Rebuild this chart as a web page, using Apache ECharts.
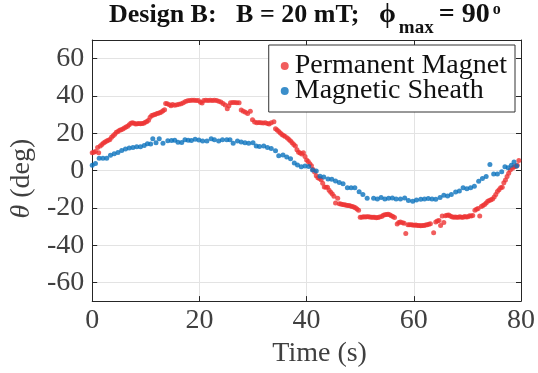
<!DOCTYPE html>
<html>
<head>
<meta charset="utf-8">
<script src="https://cdn.jsdelivr.net/npm/echarts@6/dist/echarts.min.js"></script>
<style>
  html, body { margin: 0; padding: 0; background: #fff; }
  #chart { width: 538px; height: 373px; }
</style>
</head>
<body>
<div id="chart"></div>
<script>
// series names
var seriesNames = ['Permanent Magnet', 'Magnetic Sheath'];

// tick labels
var xTicks = [0, 20, 40, 60, 80];
var yTicks = [-60, -40, -20, 0, 20, 40, 60];

// [time (s), theta (deg)]
var permanentMagnet = [
    [0, 9.5], [0.3, 9.8], [0.6, 10.2], [1.0, 12.3], [1.2, 9.6], [1.5, 13.2], [1.8, 14.0], [2.1, 14.8], [2.4, 15.3], [2.7, 15.8],
    [3.0, 16.3], [3.3, 16.7], [3.6, 17.8], [3.9, 18.6], [4.2, 19.5], [4.5, 20.5], [4.8, 21.0], [5.1, 21.6], [5.4, 21.9], [5.7, 22.3],
    [6.0, 22.8], [6.3, 23.3], [6.6, 23.8], [6.9, 24.6], [7.2, 25.4], [7.5, 25.6], [7.8, 25.3], [8.1, 25.0], [8.4, 25.1], [8.7, 25.2],
    [9.0, 25.1], [9.3, 25.2], [9.6, 25.4], [9.9, 25.9], [10.2, 26.3], [10.5, 27.0], [10.8, 28.6], [11.1, 29.5], [11.4, 29.8], [11.7, 30.1],
    [12.0, 30.4], [12.3, 30.7], [12.6, 31.0], [12.9, 31.4], [13.2, 32.0], [13.5, 32.6], [13.7, 36.0], [14.0, 35.8], [14.4, 35.3], [14.7, 34.8],
    [15.0, 35.4], [15.4, 35.0], [15.8, 35.3], [16.2, 35.6], [16.6, 35.8], [17.0, 36.4], [17.4, 37.0], [17.8, 37.4], [18.2, 37.6], [18.6, 37.7],
    [19.0, 37.7], [19.4, 37.5], [19.8, 37.6], [20.2, 36.6], [20.5, 36.2], [20.8, 37.5], [21.2, 37.7], [21.6, 37.6], [22.0, 37.7], [22.4, 37.6],
    [22.8, 37.7], [23.2, 37.5], [23.6, 37.2], [24.0, 36.8], [24.4, 36.0], [24.8, 35.2], [25.2, 33.2], [25.5, 34.8], [25.8, 36.4], [26.2, 36.5],
    [26.6, 36.5], [27.0, 36.4], [27.4, 36.3], [27.8, 32.5], [28.2, 31.8], [28.6, 31.2], [29.0, 30.6], [29.5, 31.8], [29.9, 27.2], [30.3, 26.0],
    [30.7, 25.6], [31.1, 25.7], [31.5, 25.6], [31.9, 25.5], [32.3, 25.6], [32.7, 25.2], [33.0, 25.0], [33.4, 25.6], [33.9, 26.2], [34.2, 22.4],
    [34.5, 21.8], [34.8, 21.0], [35.1, 20.2], [35.4, 19.3], [35.7, 18.8], [36.0, 18.2], [36.4, 17.4], [36.7, 16.7], [37.0, 15.8], [37.3, 14.9],
    [37.6, 14.0], [37.9, 13.2], [38.2, 11.2], [38.5, 9.8], [38.8, 9.4], [39.1, 8.9], [39.4, 9.6], [39.7, 7.6], [40.0, 5.6], [40.3, 4.8],
    [40.6, 3.6], [40.9, 2.6], [41.2, 0.6], [41.5, -0.8], [41.8, -2.8], [42.1, -3.8], [42.4, -4.2], [42.7, -4.9], [43.0, -6.8], [43.3, -8.8],
    [43.6, -9.0], [43.9, -8.9], [44.2, -10.6], [44.5, -11.6], [44.8, -12.6], [45.1, -13.8], [45.4, -17.4], [45.8, -14.9], [46.1, -17.8], [46.4, -18.0],
    [46.7, -18.2], [47.0, -18.4], [47.3, -18.5], [47.6, -18.7], [47.9, -18.8], [48.2, -19.0], [48.5, -19.3], [48.8, -19.6], [49.1, -20.0], [49.4, -20.6],
    [49.7, -21.3], [50.0, -25.1], [50.3, -25.0], [50.6, -24.8], [50.9, -24.9], [51.2, -24.8], [51.5, -24.8], [51.8, -24.9], [52.1, -25.0], [52.4, -25.0],
    [52.7, -25.1], [53.0, -25.3], [53.3, -25.2], [53.6, -24.9], [54.0, -24.6], [54.3, -24.0], [54.6, -23.7], [54.9, -23.5], [55.2, -23.4], [55.5, -23.7],
    [55.8, -24.2], [56.1, -24.6], [56.4, -25.2], [56.9, -28.6], [57.2, -27.8], [57.5, -27.6], [57.9, -28.0], [58.2, -28.2], [58.5, -33.8], [58.9, -29.1],
    [59.2, -29.0], [59.5, -29.1], [59.8, -29.2], [60.1, -29.3], [60.4, -29.2], [60.7, -29.4], [61.0, -29.5], [61.3, -29.6], [61.6, -29.5], [61.9, -29.5],
    [62.2, -29.2], [62.5, -29.0], [62.8, -28.8], [63.1, -28.5], [63.7, -33.4], [64.1, -27.6], [64.4, -27.0], [64.7, -26.8], [65.0, -29.5], [65.3, -24.4],
    [65.6, -27.9], [65.9, -24.2], [66.2, -24.0], [66.5, -23.8], [66.8, -24.4], [67.1, -24.8], [67.4, -25.0], [67.7, -24.9], [68.0, -25.1], [68.3, -25.0],
    [68.6, -24.8], [68.9, -25.0], [69.2, -25.0], [69.5, -24.7], [69.8, -24.9], [70.1, -24.8], [70.4, -24.3], [70.7, -24.4], [71.0, -24.1], [71.4, -21.3],
    [71.7, -20.8], [72.0, -20.4], [72.3, -24.4], [72.6, -19.3], [72.9, -18.7], [73.2, -18.2], [73.5, -17.4], [73.8, -16.5], [74.1, -16.1], [74.4, -15.7],
    [74.7, -15.2], [75.0, -14.2], [75.3, -12.8], [75.6, -11.2], [75.9, -10.3], [76.2, -9.2], [76.5, -9.0], [76.8, -6.6], [77.1, -5.0], [77.4, -3.2],
    [77.7, -1.5], [78.0, 0.3], [78.4, 1.2], [78.7, 2.0], [79.0, 2.2], [79.3, 2.8], [79.6, 5.4]
];

var magneticSheath = [
    [0, 2.9], [0.6, 3.8], [1.3, 6.6], [2.0, 6.6], [2.7, 6.6], [3.4, 8.2], [4.1, 9.0], [4.8, 9.7], [5.5, 10.8], [6.2, 11.5],
    [6.9, 12.1], [7.6, 12.3], [8.3, 12.7], [9.0, 12.7], [9.7, 13.4], [10.3, 14.4], [10.9, 14.3], [11.3, 17.0], [11.9, 14.9], [12.5, 17.0],
    [13.2, 14.6], [14.1, 16.0], [14.8, 16.1], [15.4, 16.2], [16.0, 15.2], [16.7, 15.0], [17.3, 16.5], [17.9, 16.3], [18.5, 16.1], [19.2, 16.8],
    [19.9, 16.4], [20.6, 15.8], [21.4, 15.9], [22.2, 17.0], [22.8, 16.5], [23.6, 15.8], [24.3, 16.5], [25.1, 16.5], [25.7, 16.5], [26.3, 14.6],
    [27.1, 15.8], [27.8, 15.3], [28.5, 14.9], [29.2, 14.6], [30.0, 14.9], [30.6, 13.2], [31.2, 12.9], [32.0, 13.2], [32.7, 12.3], [33.4, 11.8],
    [34.2, 10.6], [34.8, 8.0], [35.6, 8.4], [36.3, 7.2], [37.0, 6.3], [37.7, 4.0], [38.3, 3.0], [39.0, 2.0], [39.7, 2.4], [40.4, 2.2],
    [41.1, 0.3], [41.8, -0.3], [42.5, -3.0], [43.2, -3.4], [44.0, -4.5], [44.7, -4.6], [45.4, -5.6], [46.1, -6.4], [46.8, -7.1], [47.6, -9.2],
    [48.3, -9.2], [49.0, -9.2], [49.8, -11.4], [50.5, -12.8], [51.3, -14.9], [52.5, -14.9], [53.2, -15.2], [53.9, -14.4], [54.6, -15.2], [55.3, -14.9],
    [56.0, -14.7], [56.7, -15.2], [57.5, -15.2], [58.3, -14.7], [59.0, -16.1], [59.8, -16.4], [60.5, -15.8], [61.3, -15.4], [62.0, -15.2], [62.7, -15.0],
    [63.4, -15.2], [64.1, -15.4], [64.9, -14.4], [65.6, -13.2], [66.3, -13.7], [67.0, -12.8], [67.8, -11.5], [68.5, -11.0], [69.2, -9.2], [69.9, -9.7],
    [70.6, -9.2], [71.3, -8.4], [72.1, -5.8], [72.8, -4.2], [73.5, -3.2], [74.2, 3.2], [74.9, -1.8], [75.6, -1.8], [76.4, -0.6], [77.0, 2.0],
    [77.6, 1.5], [78.2, 2.8], [78.7, 4.6], [79.2, 2.5]
];

var serif = '"Liberation Serif", "DejaVu Serif", serif';
var axisColor = '#262626';
var labelColor = '#404040';
var gridColor = '#e3e3e3';

var chart = echarts.init(document.getElementById('chart'), null, { renderer: 'canvas' });

// shared axis look (box on, ticks pointing in)
var xBase = {
    type: 'value', min: 0, max: 80, interval: 20,
    axisLine: { show: true, onZero: false, lineStyle: { color: axisColor, width: 1 } },
    axisTick: { show: true, inside: true, length: 5, lineStyle: { color: axisColor } }
};
// y: fixed -70..70, splitNumber 7 gives ticks every 20 from -60
var yBase = {
    type: 'value', min: -70, max: 70, splitNumber: 7,
    axisLine: { show: true, onZero: false, lineStyle: { color: axisColor, width: 1 } },
    axisTick: { show: true, inside: true, length: 5, lineStyle: { color: axisColor } }
};

chart.setOption({
    animation: false,
    backgroundColor: '#fff',
    title: {
        text: '{b|Design B:   B = 20 mT;   }{p|\u03d5}{s|max}{e|= 90}{o|o}',
        left: 104,
        top: -5,
        textStyle: {
            rich: {
                b: { fontFamily: serif, fontWeight: 'bold', fontSize: 26, color: '#111', lineHeight: 30 },
                p: { fontFamily: serif, fontWeight: 'bold', fontSize: 27, color: '#111', lineHeight: 30, padding: [0, 3, 0, 0] },
                s: { fontFamily: serif, fontWeight: 'bold', fontSize: 19, color: '#111', lineHeight: 19, padding: [26, 2, 0, 0] },
                e: { fontFamily: serif, fontWeight: 'bold', fontSize: 28, color: '#111', lineHeight: 30, padding: [0, 0, 0, 3] },
                o: { fontFamily: serif, fontWeight: 'bold', fontSize: 16, color: '#111', lineHeight: 16, padding: [0, 0, 10, 3] }
            }
        }
    },
    legend: {
        data: seriesNames,
        orient: 'vertical',
        right: 23,
        top: 45,
        icon: 'circle',
        itemWidth: 8,
        itemHeight: 8,
        itemGap: -3,
        padding: [7, 8, 7, 12],
        backgroundColor: '#fff',
        borderColor: '#333',
        borderWidth: 1,
        borderRadius: 0,
        textStyle: { fontFamily: serif, fontSize: 28, color: '#111', lineHeight: 24, padding: [0, 0, 0, 1] }
    },
    grid: { left: 86, right: 14, top: 40, bottom: 62, show: false },
    xAxis: [
        Object.assign({}, xBase, {
            position: 'bottom',
            name: 'Time (s)',
            nameLocation: 'middle',
            nameGap: 30,
            nameTextStyle: { fontFamily: serif, fontSize: 28, color: labelColor, padding: [0, 0, 0, 26] },
            axisLabel: { fontFamily: serif, fontSize: 28, color: labelColor, margin: 6 },
            splitLine: { show: true, lineStyle: { color: gridColor, width: 1 } }
        }),
        Object.assign({}, xBase, {
            position: 'top',
            axisLabel: { show: false },
            splitLine: { show: false }
        })
    ],
    yAxis: [
        Object.assign({}, yBase, {
            position: 'left',
            name: '{i|\u03b8} (deg)',
            nameLocation: 'middle',
            nameRotate: 90,
            nameGap: 52,
            nameTextStyle: {
                fontFamily: serif, fontSize: 28, color: labelColor, padding: [0, 16, 0, 0],
                rich: { i: { fontFamily: serif, fontStyle: 'italic', fontSize: 28, color: labelColor } }
            },
            axisLabel: {
                fontFamily: serif, fontSize: 28, color: labelColor, margin: 8,
                formatter: function (v) { return yTicks.indexOf(v) > -1 ? String(v) : ''; }
            },
            splitLine: { show: true, lineStyle: { color: gridColor, width: 1 } }
        }),
        Object.assign({}, yBase, {
            position: 'right',
            axisLabel: { show: false },
            splitLine: { show: false }
        })
    ],
    series: [
        {
            name: seriesNames[0],
            type: 'scatter',
            xAxisIndex: 0, yAxisIndex: 0,
            symbol: 'circle',
            symbolSize: 5,
            itemStyle: { color: '#EE3535' },
            data: permanentMagnet
        },
        {
            name: seriesNames[1],
            type: 'scatter',
            xAxisIndex: 0, yAxisIndex: 0,
            symbol: 'circle',
            symbolSize: 5,
            itemStyle: { color: '#0A72BD' },
            data: magneticSheath
        }
    ]
});
</script>
</body>
</html>
